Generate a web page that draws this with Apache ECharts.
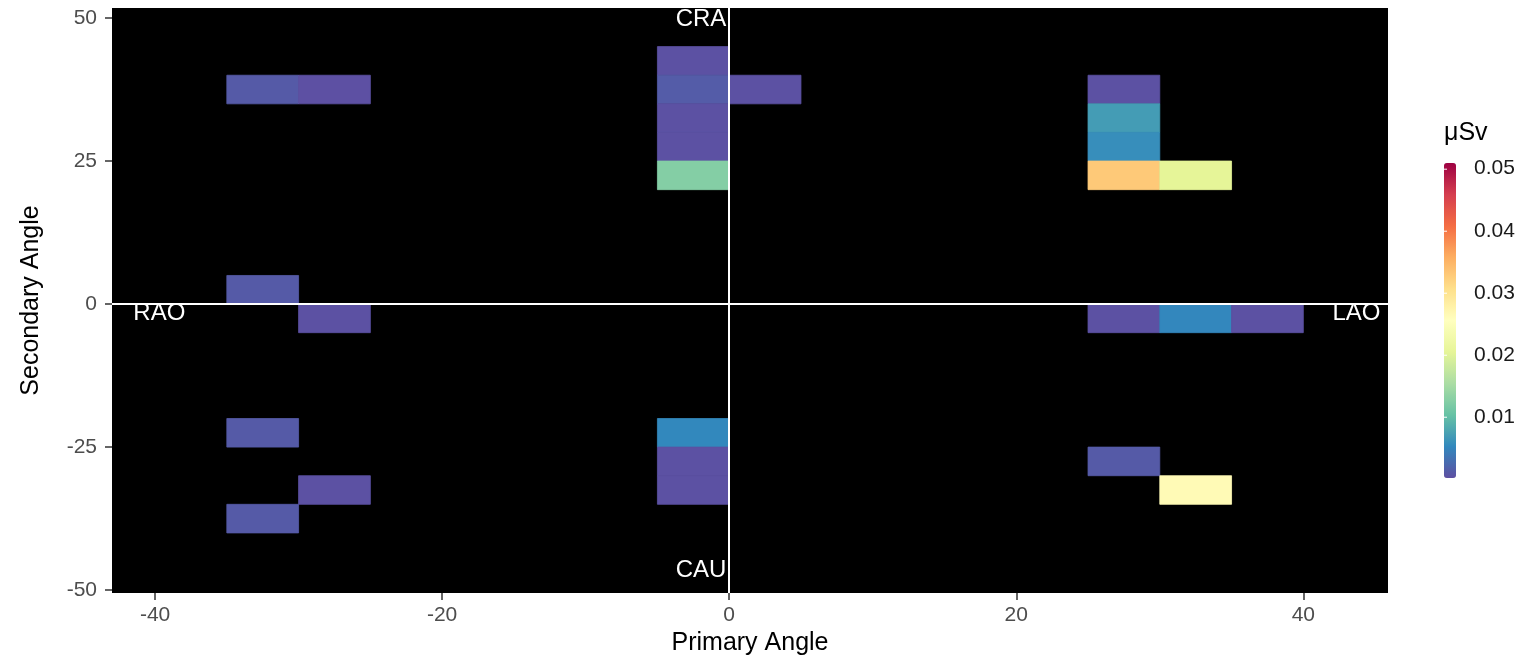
<!DOCTYPE html>
<html>
<head>
<meta charset="utf-8">
<script src="https://cdn.jsdelivr.net/npm/echarts@6/dist/echarts.min.js"></script>
<style>
  html, body { margin: 0; padding: 0; background: #fff; }
  #chart { width: 1539px; height: 658px; }
</style>
</head>
<body>
<div id="chart"></div>
<script>
// lower-left corner of each 5x5 bin (primary, secondary) and dose in µSv
const binX = [-35, -30, -5, -5, -5, -5, -5, 0, 25, 25, 25, 25, 30,
  -35, -30, 25, 30, 35, -35, -30, -35, -5, -5, -5, 25, 30];
const binY = [35, 35, 40, 35, 30, 25, 20, 35, 35, 30, 25, 20, 20,
  0, -5, -5, -5, -5, -25, -35, -40, -25, -30, -35, -30, -35];
const dose = [0.0012, 0.0003, 0.0004, 0.0014, 0.0004, 0.0004, 0.0126, 0.0004, 0.0004, 0.0070, 0.0058, 0.0330, 0.0205,
  0.0012, 0.0004, 0.0004, 0.0052, 0.0004, 0.0012, 0.0004, 0.0012, 0.0053, 0.0004, 0.0004, 0.0012, 0.0265];
const binSize = 5;

const xTicks = [-40, -20, 0, 20, 40];
const yTicks = [-50, -25, 0, 25, 50];
const legendTicks = [0.01, 0.02, 0.03, 0.04, 0.05];

const doseMin = 0.0002;
const doseMax = 0.051;
const spectral = ["#5e4fa2", "#3288bd", "#66c2a5", "#abdda4", "#e6f598", "#ffffbf",
  "#fee08b", "#fdae61", "#f46d43", "#d53e4f", "#9e0142"];

// direction labels
const dirNames = ["CRA", "CAU", "RAO", "LAO"];
const dirPos = [[-0.2, 49.8], [-0.2, -46.5], [-39.7, -1.6], [43.7, -1.6]];
const dirAlign = ["right", "right", "center", "center"];

const cells = binX.map((x, i) => [x, binY[i], dose[i]]);

const chart = echarts.init(document.getElementById("chart"));

const barTop = 163;
const barHeight = 315;
const tickY = (v) => barTop + (doseMax - v) / (doseMax - doseMin) * barHeight;

const font = "Liberation Sans, Arial, sans-serif";

const option = {
  animation: false,
  textStyle: { fontFamily: font },
  grid: {
    left: 112, right: 151, top: 8, bottom: 65,
    outerBoundsMode: "none",
    show: true, backgroundColor: "#000", borderWidth: 0,
  },
  xAxis: {
    type: "value",
    min: -43,
    max: 45.9,
    name: "Primary Angle",
    nameLocation: "middle",
    nameGap: 38,
    nameTextStyle: { color: "#000", fontSize: 25, fontFamily: font },
    splitLine: { show: false },
    axisLine: { show: false, onZero: false },
    axisTick: { show: true, customValues: xTicks, length: 7, lineStyle: { color: "#333", width: 1.5 } },
    axisLabel: { customValues: xTicks, color: "#4d4d4d", fontSize: 21, margin: 12, fontFamily: font },
  },
  yAxis: {
    type: "value",
    min: -50.5,
    max: 51.75,
    name: "Secondary Angle",
    nameLocation: "middle",
    nameGap: 68,
    nameRotate: 90,
    nameTextStyle: { color: "#000", fontSize: 25, fontFamily: font },
    splitLine: { show: false },
    axisLine: { show: false, onZero: false },
    axisTick: { show: true, customValues: yTicks, length: 7, lineStyle: { color: "#333", width: 1.5 } },
    axisLabel: { customValues: yTicks, color: "#4d4d4d", fontSize: 21, margin: 15, fontFamily: font },
  },
  visualMap: {
    type: "continuous",
    min: doseMin,
    max: doseMax,
    dimension: 2,
    seriesIndex: 0,
    calculable: false,
    left: 1444,
    top: barTop,
    itemWidth: 12,
    itemHeight: barHeight,
    text: ["", ""],
    padding: 0,
    inRange: { color: spectral },
  },
  graphic: [
    { type: "text", left: 1444, top: 121, style: { text: "μSv", fontSize: 25, fill: "#000", fontFamily: font } },
  ].concat(legendTicks.map((v) => ({
    type: "text",
    left: 1474,
    top: tickY(v) - 11,
    style: { text: v.toFixed(2), fontSize: 21, fill: "#1a1a1a", fontFamily: font },
  }))).concat(legendTicks.map((v) => ({
    type: "line",
    shape: { x1: 1444, y1: tickY(v), x2: 1447, y2: tickY(v) },
    style: { stroke: "#fff", lineWidth: 1 },
    z: 100,
  }))),
  series: [
    {
      type: "custom",
      data: cells,
      clip: true,
      renderItem: (params, api) => {
        const x = api.value(0);
        const y = api.value(1);
        const p0 = api.coord([x, y + binSize]);
        const p1 = api.coord([x + binSize, y]);
        const c = api.visual("color");
        return {
          type: "rect",
          shape: { x: p0[0], y: p0[1], width: p1[0] - p0[0], height: p1[1] - p0[1] },
          style: { fill: c, stroke: c, lineWidth: 0.8 },
        };
      },
      z: 2,
    },
    {
      type: "scatter",
      data: dirPos.map((p, i) => ({
        value: p,
        name: dirNames[i],
        label: { align: dirAlign[i] },
      })),
      symbolSize: 0,
      silent: true,
      itemStyle: { opacity: 1 },
      label: {
        show: true,
        position: "inside",
        formatter: (p) => p.name,
        color: "#fff",
        opacity: 1,
        textBorderWidth: 0,
        fontSize: 24,
        fontFamily: font,
      },
      markLine: {
        silent: true,
        symbol: "none",
        label: { show: false },
        lineStyle: { color: "#fff", width: 2, type: "solid", opacity: 1 },
        data: [{ xAxis: 0 }, { yAxis: 0 }],
      },
      z: 3,
    },
  ],
};

chart.setOption(option);
window.addEventListener("resize", () => chart.resize());
</script>
</body>
</html>
